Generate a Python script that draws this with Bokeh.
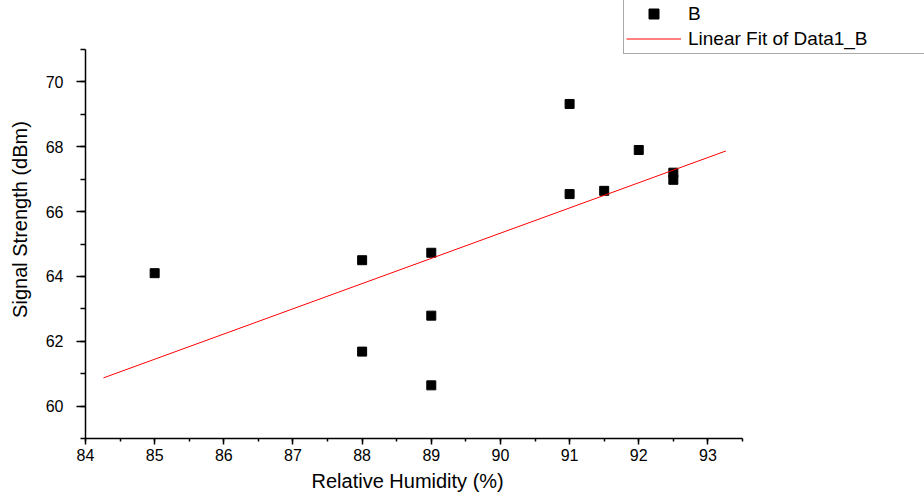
from bokeh.plotting import figure
from bokeh.models import Range1d, SingleIntervalTicker, Legend, LegendItem, ColumnDataSource, Title
from bokeh.embed import file_html
from bokeh.resources import INLINE

# data
humidity = [85, 88, 88, 89, 89, 89, 91, 91, 91.5, 92, 92.5, 92.5]
signal = [64.10, 64.50, 61.68, 64.73, 62.79, 60.64, 69.32, 66.54, 66.64, 67.90, 67.20, 66.98]
fit_x = [84.26, 93.26]
fit_y = [60.87, 67.87]
x_label = "Relative Humidity (%)"
y_label = "Signal Strength (dBm)"
series_name = "B"
fit_name = "Linear Fit of Data1_B"
x_axis_span = (84, 93.5)
y_axis_span = (59, 71)

FONT = "Liberation Sans"

# frame covers the whole area to the top/right so the legend can sit there;
# axis lines are limited with bounds
px_per_x = 657 / (x_axis_span[1] - x_axis_span[0])
px_per_y = 389 / (y_axis_span[1] - y_axis_span[0])
x_end = x_axis_span[0] + 839 / px_per_x
y_end = y_axis_span[0] + 438 / px_per_y

p = figure(width=924, height=500, output_backend="svg", toolbar_location=None,
           x_range=Range1d(x_axis_span[0], x_end), y_range=Range1d(y_axis_span[0], y_end),
           min_border_left=85, min_border_right=0, min_border_top=0, min_border_bottom=62)
p.outline_line_color = None
p.xgrid.visible = False
p.ygrid.visible = False
p.background_fill_color = "white"
p.border_fill_color = "white"

src = ColumnDataSource(dict(x=humidity, y=signal))
pts = p.scatter("x", "y", source=src, marker="square", size=9,
                fill_color="black", line_color="black")
fit = p.line(fit_x, fit_y, line_color="#ff0000", line_width=1)

p.xaxis.ticker = SingleIntervalTicker(interval=1, num_minor_ticks=2)
p.yaxis.ticker = SingleIntervalTicker(interval=2, num_minor_ticks=2)
p.xaxis.bounds = x_axis_span
p.yaxis.bounds = y_axis_span

for ax in (p.xaxis[0], p.yaxis[0]):
    ax.axis_line_color = "black"
    ax.axis_line_width = 1.5
    ax.major_tick_line_color = "black"
    ax.minor_tick_line_color = "black"
    ax.major_tick_line_width = 1.5
    ax.minor_tick_line_width = 1.5
    ax.major_tick_in = 0
    ax.minor_tick_in = 0
    ax.major_label_text_font = FONT
    ax.major_label_text_font_size = "16px"
    ax.major_label_text_color = "black"
    ax.axis_label_text_font = FONT
    ax.axis_label_text_font_size = "20px"
    ax.axis_label_text_font_style = "normal"
    ax.axis_label_text_color = "black"

p.xaxis.major_tick_out = 6
p.xaxis.minor_tick_out = 3
p.yaxis.major_tick_out = 9
p.yaxis.minor_tick_out = 5
p.yaxis.axis_label = y_label
p.xaxis.major_label_standoff = 4
p.yaxis.major_label_standoff = 13
p.yaxis.axis_label_standoff = 12

# x axis title centred under the visible axis span
xt = Title(text=x_label, align="left", offset=226, standoff=9,
           text_font=FONT, text_font_size="20px", text_font_style="normal",
           text_color="black")
p.add_layout(xt, "below")

legend = Legend(items=[LegendItem(label=series_name, renderers=[pts]),
                       LegendItem(label=fit_name, renderers=[fit])],
                location=(538, 384))
legend.label_text_font = FONT
legend.label_text_font_size = "19px"
legend.label_text_color = "black"
legend.glyph_width = 55
legend.glyph_height = 25
legend.label_height = 25
legend.label_width = 250
legend.label_standoff = 7
legend.padding = 2
legend.margin = 0
legend.spacing = 0
legend.border_line_color = "#555555"
legend.border_line_width = 1
legend.background_fill_color = "white"
legend.background_fill_alpha = 1
p.add_layout(legend, "center")

open("out.html", "w").write(file_html(p, INLINE))
